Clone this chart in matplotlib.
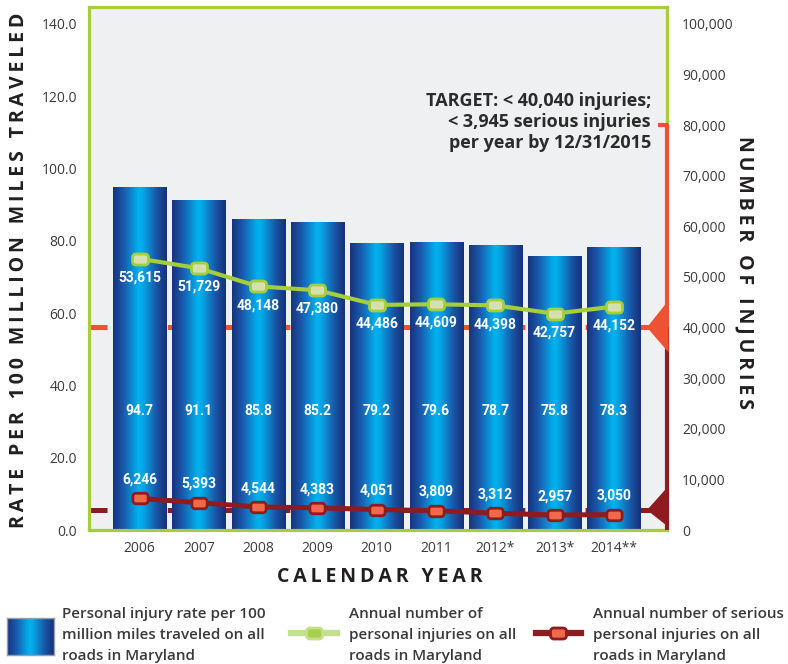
import numpy as np
import matplotlib
matplotlib.use("Agg")
import matplotlib.pyplot as plt
import matplotlib.transforms as mtransforms
from matplotlib.colors import LinearSegmentedColormap
from matplotlib.path import Path
from matplotlib.patches import Polygon
from matplotlib.lines import Line2D
from matplotlib.ticker import FuncFormatter, FixedLocator

plt.rcParams["lines.scale_dashes"] = False

# ---------------- data ----------------
years = ["2006", "2007", "2008", "2009", "2010", "2011", "2012*", "2013*", "2014**"]
rate = [94.7, 91.1, 85.8, 85.2, 79.2, 79.6, 78.7, 75.8, 78.3]
injuries = [53615, 51729, 48148, 47380, 44486, 44609, 44398, 42757, 44152]
serious = [6246, 5393, 4544, 4383, 4051, 3809, 3312, 2957, 3050]
target_injuries = 40040
target_serious = 3945
bracket_top = 80000
left_ticks = [0, 20, 40, 60, 80, 100, 120, 140]
right_ticks = [0, 10000, 20000, 30000, 40000, 50000, 60000, 70000, 80000, 90000, 100000]
target_text = "TARGET: < 40,040 injuries;\n< 3,945 serious injuries\nper year by 12/31/2015"
left_title = "RATE PER 100 MILLION MILES TRAVELED"
right_title = "NUMBER OF INJURIES"
x_title = "CALENDAR YEAR"
legend_labels = [
    "Personal injury rate per 100\nmillion miles traveled on all\nroads in Maryland",
    "Annual number of\npersonal injuries on all\nroads in Maryland",
    "Annual number of serious\npersonal injuries on all\nroads in Maryland",
]

# ---------------- style ----------------
GREEN = "#a6cd3a"
GREEN_FACE = "#d4e1ae"
ORANGE = "#ee5233"
DARKRED = "#8d1b1f"
RED_FACE = "#f0694a"
FRAME = "#a8cd3c"
TXT = "#231f20"
TICK = "#3a3a3a"
bar_cmap = LinearSegmentedColormap.from_list(
    "bar", [(0.0, "#17337c"), (0.2, "#1a5aad"), (0.48, "#00b3ee"),
            (0.56, "#06a6e6"), (0.82, "#1a52a4"), (1.0, "#153176")])

W, H = 788, 664
fig = plt.figure(figsize=(W / 100, H / 100), dpi=100)
fig.patch.set_facecolor("white")


def spaced(s):
    return "\u2009".join(list(s))


def rrect(w=1.45, h=1.0, r=0.3, n=7):
    pts = []
    corners = [(w / 2 - r, h / 2 - r, 0), (-w / 2 + r, h / 2 - r, 90),
               (-w / 2 + r, -h / 2 + r, 180), (w / 2 - r, -h / 2 + r, 270)]
    for cx, cy, a0 in corners:
        for t in np.linspace(a0, a0 + 90, n):
            pts.append((cx + r * np.cos(np.radians(t)), cy + r * np.sin(np.radians(t))))
    pts.append(pts[0])
    codes = [Path.MOVETO] + [Path.LINETO] * (len(pts) - 2) + [Path.CLOSEPOLY]
    return Path(pts, codes)


MARK = rrect()

ax = fig.add_axes([89 / W, (H - 530) / H, 578 / W, 523 / H])
ax.set_facecolor("#eff0f2")
x = np.arange(len(years))
ax.set_xlim(-0.852, 8.895)
ax.set_ylim(0, 140 * 523 / 506)

axr = ax.twinx()
axr.set_ylim(0, 100000 * 523 / 506)

# target lines behind bars
blend_back = mtransforms.blended_transform_factory(ax.transAxes, axr.transData)
ax.plot([0, 0.985], [target_injuries] * 2, transform=blend_back, color=ORANGE, lw=3.6,
        dashes=(13, 5.8), zorder=1, solid_capstyle="butt", dash_capstyle="butt")
ax.plot([0, 0.985], [target_serious] * 2, transform=blend_back, color=DARKRED, lw=3.6,
        dashes=(13, 5.8), zorder=1, solid_capstyle="butt", dash_capstyle="butt")

# gradient bars
bars = ax.bar(x, rate, width=0.894, color="none", zorder=2)
grad = np.linspace(0, 1, 256).reshape(1, -1)
for b in bars:
    x0, y0, w, h = b.get_x(), b.get_y(), b.get_width(), b.get_height()
    ax.imshow(grad, cmap=bar_cmap, aspect="auto", extent=(x0, x0 + w, y0, y0 + h),
              zorder=2, interpolation="bicubic")
ax.set_xlim(-0.852, 8.895)
ax.set_ylim(0, 140 * 523 / 506)

lab_font = dict(family=["Roboto", "DejaVu Sans"], weight="bold", color="white", fontsize=10)
for xi, r in zip(x, rate):
    ax.text(xi, 33, f"{r:.1f}", ha="center", va="center", zorder=5, **lab_font)

# lines
axr.plot(x, injuries, color=GREEN, lw=3, marker=MARK, ms=11.5, mfc=GREEN_FACE,
         mec=GREEN, mew=2, zorder=4)
axr.plot(x, serious, color=DARKRED, lw=3.6, marker=MARK, ms=11, mfc=RED_FACE,
         mec=DARKRED, mew=2, zorder=4)
for xi, v in zip(x, injuries):
    axr.annotate(f"{v:,}", (xi, v), xytext=(0, -13.5), textcoords="offset points",
                 ha="center", va="center", zorder=5, **lab_font)
for xi, v in zip(x, serious):
    axr.annotate(f"{v:,}", (xi, v), xytext=(0, 13.5), textcoords="offset points",
                 ha="center", va="center", zorder=5, **lab_font)

# bracket on right
blend = mtransforms.blended_transform_factory(axr.transAxes, axr.transData)
axr.plot([1, 1], [0, target_injuries], transform=blend, color=DARKRED, lw=3,
         solid_capstyle="butt", zorder=6, clip_on=False)
axr.plot([0.985, 1, 1], [bracket_top, bracket_top, target_injuries], transform=blend,
         color=ORANGE, lw=3, solid_capstyle="butt", zorder=7, clip_on=False)


def tri(level, color, up, down, tip=0.20, z=7):
    t = fig.dpi_scale_trans + mtransforms.ScaledTranslation(1, level, blend)
    p = Polygon([(-tip, 0.0), (0.015, up), (0.015, -down)], closed=True, transform=t,
                facecolor=color, edgecolor="none", zorder=z, clip_on=False)
    axr.add_patch(p)


tri(target_injuries, ORANGE, 0.27, 0.25)
tri(target_serious, DARKRED, 0.24, 0.17)

# ticks
tick_font = ["Open Sans", "DejaVu Sans"]
ax.yaxis.set_major_locator(FixedLocator(left_ticks))
ax.yaxis.set_major_formatter(FuncFormatter(lambda v, p: f"{v:.1f}"))
ax.set_xticks(x)
ax.set_xticklabels(years)
ax.tick_params(axis="y", length=0, pad=8.5, labelsize=10, labelcolor=TICK)
ax.tick_params(axis="x", length=0, pad=8, labelsize=10, labelcolor=TICK)
axr.yaxis.set_major_locator(FixedLocator(right_ticks))
axr.yaxis.set_major_formatter(FuncFormatter(lambda v, p: f"{int(v):,}"))
axr.tick_params(axis="y", length=0, pad=11, labelsize=10, labelcolor=TICK)
for lbl in ax.get_yticklabels() + ax.get_xticklabels() + axr.get_yticklabels():
    lbl.set_family(tick_font)

for s in ax.spines.values():
    s.set_color(FRAME)
    s.set_linewidth(2.3)
for s in axr.spines.values():
    s.set_visible(False)

title_font = dict(family=["Open Sans", "DejaVu Sans"], weight="bold", color=TXT)
fig.text(19 / W, 1 - 270 / H, spaced(left_title), rotation=90, ha="center", va="center",
         fontsize=14, **title_font)
fig.text(745 / W, 1 - 272 / H, spaced(right_title), rotation=270, ha="center", va="center",
         fontsize=14, **title_font)
fig.text(380 / W, 1 - 577 / H, spaced(x_title), ha="center", va="center",
         fontsize=14, **title_font)

fig.text(651 / W, 1 - 122 / H, target_text, ha="right", va="center", multialignment="right",
         fontsize=13, linespacing=1.2, family=["Open Sans", "DejaVu Sans"], weight="bold",
         color="#2b2b2b")

# legend
leg_font = dict(family=["Open Sans", "DejaVu Sans"], weight="semibold", color=TICK,
                fontsize=11, linespacing=1.62, ha="left", va="center")
lax = fig.add_axes([7 / W, 1 - 655 / H, 47 / W, 37 / H])
lax.imshow(grad, cmap=bar_cmap, aspect="auto", interpolation="bicubic")
lax.set_xticks([])
lax.set_yticks([])
for s in lax.spines.values():
    s.set_color("#9aa0a8")
    s.set_linewidth(1)
fig.text(62 / W, 1 - 635 / H, legend_labels[0], **leg_font)

ly = 1 - 633 / H
fig.add_artist(Line2D([291 / W, 314 / W, 337 / W], [ly, ly, ly], color="#c5df90", lw=4.5,
                      marker=MARK, ms=11.5, mfc="#a8cf4a", mec="#c5df90", mew=2, markevery=[1]))
fig.text(349 / W, 1 - 635 / H, legend_labels[1], **leg_font)
fig.add_artist(Line2D([536 / W, 558 / W, 581 / W], [ly, ly, ly], color=DARKRED, lw=4.5,
                      marker=MARK, ms=11.5, mfc=RED_FACE, mec=DARKRED, mew=2, markevery=[1]))
fig.text(593 / W, 1 - 635 / H, legend_labels[2], **leg_font)

fig.savefig("out.png", dpi=100)
